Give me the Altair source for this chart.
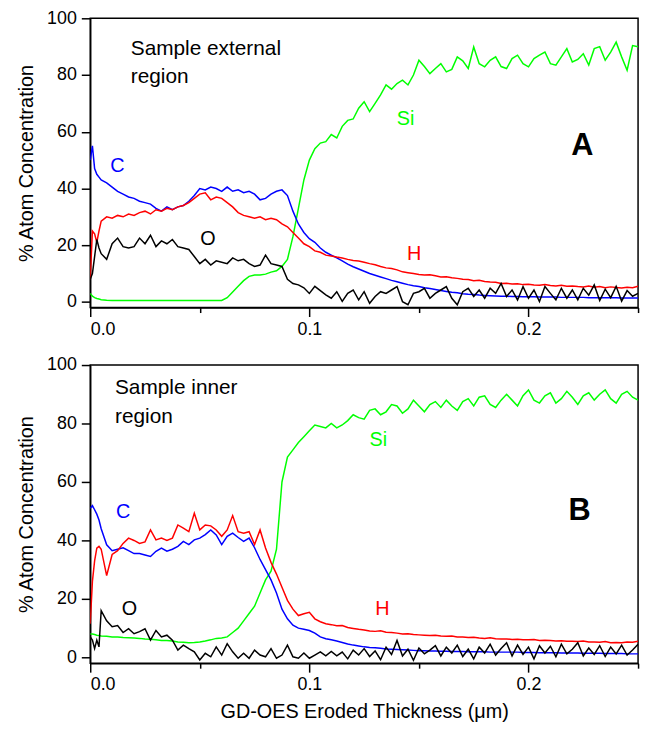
import altair as alt
import pandas as pd

# ---------------- x grid (GD-OES eroded thickness, um) ----------------
X_EARLY = [0.0, 0.001, 0.002, 0.003, 0.004]
X_MAIN = [round(0.005 + 0.0025 * i, 4) for i in range(99)]
X = X_EARLY + X_MAIN

SERIES = ["Si", "C", "H", "O"]
COLORS = ["#00ff00", "#0000ff", "#ff0000", "#000000"]

# ---------------- Panel A (sample external region) ----------------
A_C = [50, 55, 47, 45, 44,
       43, 42, 40.5, 39, 38, 37, 36.5, 35.5, 35, 34.5,
       33, 32, 33.5, 32.5, 33.5, 34, 35.5, 37.5, 40, 39.5,
       40.5, 40, 39, 40.5, 39, 39.5, 38.5, 39, 38, 36,
       36.5, 38, 39, 39.5, 37.5, 32, 27.5, 24.5, 22.3, 21, 19, 17.5,
       16.5, 15.5, 14.5, 13.3, 12.4, 11.6, 10.8, 10, 9.4, 8.8,
       8.2, 7.6, 7.1, 6.6, 6.1, 5.7, 5.4, 5.0, 4.7, 4.4,
       4.0, 3.7, 3.4, 3.2, 2.9, 2.7, 2.6, 2.4, 2.3, 2.2,
       2.1, 2.0, 2.0, 1.9, 1.9, 1.8, 1.8, 1.8, 1.7, 1.7,
       1.7, 1.7, 1.6, 1.6, 1.6, 1.6, 1.6, 1.5, 1.5, 1.5,
       1.5, 1.5, 1.5, 1.4, 1.4, 1.4, 1.4]

A_H = [8, 25, 24, 21, 25,
       28.5, 30, 29.5, 30.5, 30, 31, 30.5, 31.5, 32, 31,
       32.5, 32, 33, 32.5, 33.5, 34, 35, 36.5, 38, 38.5,
       36, 37, 36.5, 35, 33.5, 31.5, 30.5, 30, 29.5, 30,
       29, 29.5, 29, 27.5, 26.5, 24.5, 22.5, 20.5, 19.5, 18, 17.5, 16.5,
       16.2, 15.8, 15.5, 15.0, 14.6, 14.4, 14.0, 13.5, 13.1, 12.5,
       12.0, 11.8, 11.3, 10.6, 10.3, 10.0, 9.7, 9.5, 9.6, 9.2,
       8.8, 8.9, 8.5, 8.3, 8.0, 7.9, 7.5, 7.6, 7.2, 7.0,
       6.9, 6.5, 6.6, 6.3, 6.4, 6.1, 6.2, 6.0, 5.9, 6.1,
       5.8, 5.6, 5.9, 5.5, 5.6, 5.4, 5.3, 5.6, 5.2, 5.4,
       5.0, 5.3, 5.1, 4.9, 5.2, 5.0, 5.5]

A_O = [8, 10, 16, 22, 19,
       17, 15, 20.5, 22.5, 19.5, 19, 19.5, 22.5, 20.5, 23.5,
       19.5, 21.5, 20.5, 22, 19.5, 19, 18.5, 16, 13.5, 15,
       13, 14.5, 14, 13.5, 15.5, 14.5, 15, 13.5, 12.5, 13,
       16.5, 13.5, 13, 12.5, 8, 6.5, 6, 5, 3, 5.5, 4, 2.5,
       1.3, 3.6, 0.2, 3, 4.2, 0.7, 3.6, -0.5, 1.9, 3.6,
       3, 4.2, 5.4, 0.1, -1, 3, 3.6, 4.8, 1.3, 3,
       4.2, 5.4, 1.3, -1, 3.6, 4.8, 1.9, 4.2, 1.3, 4.8,
       3, 6.5, 1.9, 4.2, 0.7, 5.4, 1.3, 4.2, 0.1, 5.4,
       3, 0.7, 4.8, 1.3, 4.2, 0.7, 4.8, 2.4, 6, 0.5,
       4.5, 1.5, 5.5, 0.3, 4, 2, 3]

A_SI = [3, 2, 1.5, 1.2, 1,
        0.8, 0.6, 0.5, 0.5, 0.5, 0.5, 0.5, 0.5, 0.5, 0.5,
        0.5, 0.5, 0.5, 0.5, 0.5, 0.5, 0.5, 0.5, 0.5, 0.5,
        0.5, 0.5,
        0.5, 1.5, 3.5, 5.5, 7.5, 9, 9.5, 9.5, 9.8, 10.5,
        11, 12.5, 15, 23, 33, 43, 50, 54, 56, 56.5,
        59, 57.8, 61.9, 64, 64.5, 68.3, 70.6, 67.1, 70, 73,
        76.5, 75, 77, 78.2, 76.5, 80, 85.2, 83, 80.5, 82.3,
        84, 81.1, 82, 86.4, 85, 82.3, 89.9, 84, 82.9, 85.2,
        86.4, 83, 82.3, 85.8, 87, 84, 82.9, 85.8, 87, 88.1,
        84, 83.5, 86.4, 89.3, 84.6, 85.5, 87.5, 83.5, 89.3, 90,
        85.2, 88.1, 91.6, 86.4, 81.7, 90.4, 90]

# ---------------- Panel B (sample inner region) ----------------
B_C = [51, 51.9, 50.5, 49, 47,
       44, 38.5, 36.5, 37, 37.5, 36.5, 35.5, 35.5, 35, 34.5,
       36.3, 37.4, 36.3, 37, 38, 39.7, 38.6, 40.2, 40.8, 42,
       43.6, 41.9, 38.6, 41.4, 42.5, 41, 39.7, 40.8, 37.5, 33.5,
       30, 26.5, 22, 16.5, 13.2, 11, 10, 9.6, 9.2, 8.3, 7, 6.4,
       6.0, 5.6, 5.1, 4.6, 4.2, 3.9, 3.6, 3.4, 3.3, 3.1,
       2.9, 2.8, 2.7, 2.6, 2.5, 2.4, 2.3, 2.3, 2.2, 2.2,
       2.1, 2.1, 2.0, 2.0, 2.0, 1.9, 1.9, 1.9, 1.9, 1.8,
       1.8, 1.8, 1.8, 1.8, 1.8, 1.7, 1.7, 1.7, 1.6, 1.6,
       1.6, 1.6, 1.5, 1.5, 1.5, 1.5, 1.4, 1.4, 1.4, 1.4,
       1.3, 1.3, 1.3, 1.3, 1.2, 1.2, 1.2]

B_H = [11.5, 26, 33, 37.4, 38,
       37, 28, 35.2, 36.5, 39, 40.8, 40, 39, 39.5, 43.6,
       40.2, 40.8, 40, 40.8, 45.3, 44.2, 43, 49.3, 43.6, 45.3,
       45, 43.6, 41.4, 43.6, 48.5, 43, 42.5, 43, 38.6, 43.6,
       37.4, 32.5, 28.5, 24, 19.5, 16.5, 14.3, 14.9, 15.4, 13.2, 12.2, 11.5,
       11.2, 10.8, 10.9, 10.2, 9.9, 9.6, 9.4, 9.0, 8.9, 9.1,
       8.6, 8.5, 8.3, 8.0, 8.1, 7.8, 7.7, 7.6, 7.5, 7.6,
       7.3, 7.2, 7.3, 7.0, 7.0, 6.8, 6.9, 6.6, 6.5, 6.7,
       6.4, 6.3, 6.3, 6.1, 6.2, 6.0, 6.0, 6.1, 5.8, 5.9,
       5.8, 5.6, 5.7, 5.5, 5.5, 5.4, 5.6, 5.3, 5.3, 5.2,
       5.4, 5.0, 5.1, 5.0, 5.3, 5.2, 5.5]

B_O = [7, 5.9, 3, 5.9, 3.6,
       16, 12.5, 10.5, 10.9, 8.5, 9.8, 8.1, 8.8, 9.8, 5.9,
       9.2, 7, 7.6, 5.9, 2.5, 4.2, 3, 1.9, -0.9, 1.4,
       0.2, 3.6, 0.8, 4.7, 1.9, -0.3, 1.4, -0.3, 2.5, 0.8,
       0.2, 3, -0.3, 0.8, 4.2, 0.2, -0.3, 1.5, -0.3, 0.8, 1.9, 0.5,
       2, 0.5, 1.8, -0.5, 2.5, 0.8, 3, 0.3, 2.2, -0.8,
       3.5, 1, 5.8, 0.5, 2.8, -1, 3.2, 1.2, 2.5, 4,
       0.5, 3.5, 1.5, 4.2, 0.3, 2.8, -0.5, 3.5, 1.5, 4.5,
       0.8, 3, 5, 0.5, 4.2, 1, 3.5, -0.5, 4, 1.5,
       3.8, 0.2, 4.5, 1.2, 2.8, 5, 0.5, 3.2, 1, 4,
       0.3, 3.5, 1.2, 4.2, 0.8, 2.5, 4.5]

B_SI = [8, 8, 7.8, 7.6, 7.5,
        7.3, 7.2, 7, 7, 6.8, 6.7, 6.6, 6.5, 6.3, 6.2,
        6, 5.8, 5.8, 5.6, 5.3, 5.2, 5, 5.1, 5.3, 5.6,
        6, 6.5, 6.6, 7, 8.5, 10, 12.5, 15, 17.5, 22,
        26.5, 29.5, 37, 60, 68.5, 71, 73.5, 75.5, 77.5, 79.5, 79, 78.5,
        80, 78.5, 79.5, 81, 83, 82, 81.5, 84.5, 85, 83,
        84, 86.5, 86, 83.5, 85, 88, 86, 84, 86.5, 87.5,
        85.5, 88, 86, 84.5, 87.5, 88.5, 86, 89, 89.5, 86.5,
        85.5, 88, 90, 88, 86, 89.5, 91.5, 88, 87, 89.5,
        90.5, 87, 88.5, 91, 89, 86.5, 89.5, 90.5, 88, 90,
        91.5, 88.5, 87, 90, 91, 89, 88]

# ---------------- annotations ----------------
A_NOTE_TEXT = ["Sample external", "region"]
A_NOTE_X = [0.0185, 0.0185]
A_NOTE_Y = [87.2, 77.3]
A_LBL_TEXT = ["C", "O", "Si", "H"]
A_LBL_X = [0.0124, 0.0537, 0.1439, 0.1478]
A_LBL_Y = [45.9, 19.9, 62.5, 14.9]
A_TAG = ("A", 0.2246, 51.7)

B_NOTE_TEXT = ["Sample inner", "region"]
B_NOTE_X = [0.0113, 0.0113]
B_NOTE_Y = [90.1, 80.3]
B_LBL_TEXT = ["C", "O", "Si", "H"]
B_LBL_X = [0.0150, 0.0179, 0.1315, 0.1333]
B_LBL_Y = [47.6, 14.4, 72.2, 14.4]
B_TAG = ("B", 0.2233, 47.0)

LBL_COLOR = {"C": "#0000ff", "O": "#000000", "Si": "#00ff00", "H": "#ff0000"}

FONT = "Liberation Sans"


def series_frame(c, h, o, si):
    rows = []
    for name, vals in [("Si", si), ("C", c), ("H", h), ("O", o)]:
        assert len(vals) == len(X), (name, len(vals))
        for xv, yv in zip(X, vals):
            rows.append({"x": xv, "value": yv, "series": name})
    return pd.DataFrame(rows)


def panel(df, note_t, note_x, note_y, lbl_t, lbl_x, lbl_y, tag, height, xtitle):
    xscale = alt.Scale(domain=[0, 0.25], nice=False, zero=False)
    yscale = alt.Scale(domain=[-2, 100], nice=False, zero=False)
    xaxis = alt.Axis(
        values=[0, 0.05, 0.1, 0.15, 0.2, 0.25],
        labelExpr="(round(datum.value * 100) % 10 == 0) ? format(datum.value, '.1f') : ''",
        tickSize={"condition": {"test": "round(datum.value * 100) % 10 == 0", "value": 9}, "value": 5},
        labelPadding=4,
        titlePadding=8,
        grid=False,
    )
    yaxis = alt.Axis(
        values=[0, 10, 20, 30, 40, 50, 60, 70, 80, 90, 100],
        labelExpr="(datum.value % 20 == 0) ? datum.label : ''",
        tickSize={"condition": {"test": "datum.value % 20 == 0", "value": 9}, "value": 5},
        labelPadding=5,
        titlePadding=10,
        grid=False,
    )
    lines = alt.Chart(df).mark_line(strokeWidth=1.5, clip=True).encode(
        x=alt.X("x:Q", scale=xscale, axis=xaxis, title=xtitle),
        y=alt.Y("value:Q", scale=yscale, axis=yaxis, title="% Atom Concentration"),
        color=alt.Color("series:N", scale=alt.Scale(domain=SERIES, range=COLORS), legend=None),
    )
    notes = alt.Chart(pd.DataFrame({"x": note_x, "value": note_y, "t": note_t})).mark_text(
        align="left", baseline="alphabetic", font=FONT, fontSize=21, color="black"
    ).encode(x="x:Q", y="value:Q", text="t:N")
    lbl_df = pd.DataFrame({"x": lbl_x, "value": lbl_y, "t": lbl_t,
                           "c": [LBL_COLOR[t] for t in lbl_t]})
    labels = alt.Chart(lbl_df).mark_text(
        align="center", baseline="alphabetic", font=FONT, fontSize=20
    ).encode(x="x:Q", y="value:Q", text="t:N", color=alt.Color("c:N", scale=None))
    tag_chart = alt.Chart(pd.DataFrame({"x": [tag[1]], "value": [tag[2]], "t": [tag[0]]})).mark_text(
        align="center", baseline="alphabetic", font=FONT, fontSize=31, fontWeight="bold", color="black"
    ).encode(x="x:Q", y="value:Q", text="t:N")
    return alt.layer(lines, notes, labels, tag_chart).properties(width=553, height=height)


dfA = series_frame(A_C, A_H, A_O, A_SI)
dfB = series_frame(B_C, B_H, B_O, B_SI)

pA = panel(dfA, A_NOTE_TEXT, A_NOTE_X, A_NOTE_Y, A_LBL_TEXT, A_LBL_X, A_LBL_Y, A_TAG, 292, None)
pB = panel(dfB, B_NOTE_TEXT, B_NOTE_X, B_NOTE_Y, B_LBL_TEXT, B_LBL_X, B_LBL_Y, B_TAG, 301,
           "GD-OES Eroded Thickness (\u03bcm)")

chart = alt.vconcat(pA, pB, spacing=16).properties(
    padding={"left": 8, "top": -3, "right": 5, "bottom": 5}
).configure_view(
    stroke="black", strokeWidth=1.5
).configure_axis(
    domainColor="black", domainWidth=1.5, tickColor="black", tickWidth=1.5,
    labelFont=FONT, labelFontSize=18, labelColor="black",
    titleFont=FONT, titleFontSize=20, titleFontWeight="normal", titleColor="black",
)

chart.save("out.html", embed_options={"renderer": "svg", "actions": False})
